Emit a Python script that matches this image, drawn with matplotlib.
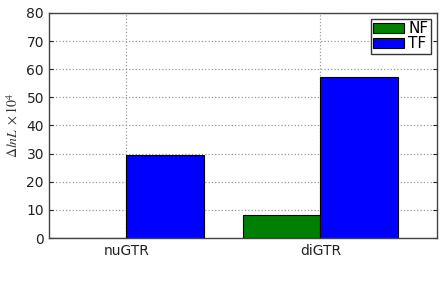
import numpy as np
import matplotlib
matplotlib.use("Agg")
import matplotlib.pyplot as plt

plt.rcParams['mathtext.fontset'] = 'stix'

modelos = ["nuGTR", "diGTR"]
nf = [0.0, 8.2]
tf = [29.5, 57.4]

x = np.arange(len(modelos))
w = 0.4

fig = plt.figure(figsize=(4.44, 2.82), dpi=100)
ax = fig.add_axes([0.110, 0.156, 0.874, 0.798])

ax.bar(x - w, nf, w, align='edge', color='green', edgecolor='black', linewidth=0.8, label='NF')
ax.bar(x, tf, w, align='edge', color='blue', edgecolor='black', linewidth=0.8, label='TF')

ax.set_xlim(-0.4, 1.6)
ax.set_ylim(0, 80)
ax.set_xticks(x)
ax.set_xticklabels(modelos)
ax.set_yticks(np.arange(0, 81, 10))
ax.tick_params(direction='in', top=True, right=True, labelsize=10, length=3, colors='#222222')
ax.tick_params(axis='x', length=0, pad=4)
ax.grid(True, linestyle=':', color='#999999', linewidth=0.9)
ax.set_axisbelow(True)
for s in ax.spines.values():
    s.set_color('#444444')
    s.set_linewidth(1.0)

ax.set_ylabel(r'$\Delta lnL\ \times 10^4$', fontsize=10, color='#333333')

leg = ax.legend(loc='upper right', fontsize=11, fancybox=False, framealpha=1,
                edgecolor='#333333', borderpad=0.15, labelspacing=0.0,
                handlelength=2.0, handletextpad=0.3, borderaxespad=0.4)

fig.savefig("out.png", dpi=100)
